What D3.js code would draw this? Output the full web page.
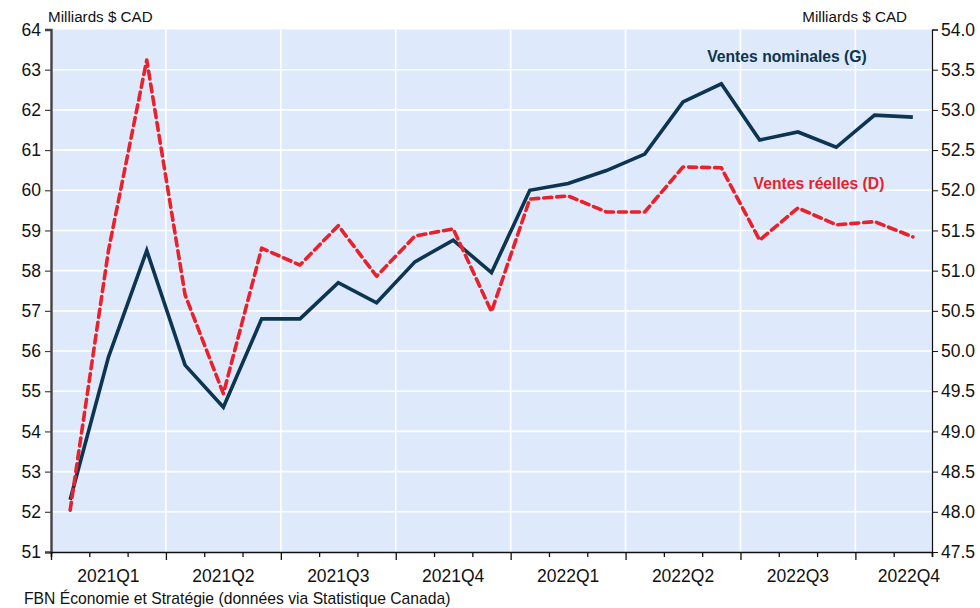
<!DOCTYPE html>
<html>
<head>
<meta charset="utf-8">
<script src="https://cdn.jsdelivr.net/npm/d3@7/dist/d3.min.js"></script>
<style>
  html, body { margin: 0; padding: 0; background: #fff; }
  svg { display: block; font-family: "Liberation Sans", Arial, sans-serif; }
</style>
</head>
<body>
<svg id="chart" width="980" height="608"></svg>
<script>
// Monthly retail sales, Jan 2021 – Nov 2022 (billions CAD)
const months = ["2021-01","2021-02","2021-03","2021-04","2021-05","2021-06","2021-07","2021-08","2021-09","2021-10","2021-11","2021-12",
                "2022-01","2022-02","2022-03","2022-04","2022-05","2022-06","2022-07","2022-08","2022-09","2022-10","2022-11"];
const nominal = [52.3, 55.85, 58.5, 55.65, 54.6, 56.8, 56.8, 57.7, 57.2, 58.22, 58.76, 57.95,
                 60.0, 60.17, 60.49, 60.9, 62.2, 62.65, 61.25, 61.45, 61.07, 61.87, 61.82];
const real = [48.02, 51.25, 53.62, 50.7, 49.47, 51.28, 51.07, 51.56, 50.93, 51.43, 51.52, 50.49,
              51.89, 51.93, 51.73, 51.73, 52.29, 52.28, 51.38, 51.78, 51.57, 51.61, 51.42];
const quarters = ["2021Q1","2021Q2","2021Q3","2021Q4","2022Q1","2022Q2","2022Q3","2022Q4"];
const leftTicks = d3.range(51, 65, 1);
const rightTicks = d3.range(47.5, 54.01, 0.5);

const svg = d3.select("#chart");
const m = { left: 51, right: 932, top: 29.5, bottom: 552 };

const x = d3.scaleLinear().domain([0, months.length]).range([m.left, m.right]);
const yL = d3.scaleLinear().domain([51, 64]).range([m.bottom, m.top]);
const yR = d3.scaleLinear().domain([47.5, 54]).range([m.bottom, m.top]);

// plot background
svg.append("rect")
  .attr("x", m.left).attr("y", m.top)
  .attr("width", m.right - m.left).attr("height", m.bottom - m.top)
  .attr("fill", "#deeafb");

// grid
const grid = svg.append("g").attr("stroke", "#ffffff").attr("stroke-width", 1.6);
grid.selectAll("line.h").data(leftTicks.slice(1, -1)).join("line")
  .attr("x1", m.left).attr("x2", m.right)
  .attr("y1", d => yL(d)).attr("y2", d => yL(d));
grid.selectAll("line.v").data(d3.range(3, months.length, 3)).join("line")
  .attr("y1", m.top).attr("y2", m.bottom)
  .attr("x1", d => x(d)).attr("x2", d => x(d));

// series
const lineN = d3.line().x((d, i) => x(i + 0.5)).y(d => yL(d));
const lineR = d3.line().x((d, i) => x(i + 0.5)).y(d => yR(d));

svg.append("path").datum(nominal)
  .attr("fill", "none").attr("stroke", "#0d3450").attr("stroke-width", 3.6)
  .attr("stroke-linejoin", "miter").attr("d", lineN);

svg.append("path").datum(real)
  .attr("fill", "none").attr("stroke", "#e8212b").attr("stroke-width", 3.6)
  .attr("stroke-dasharray", "8,5").attr("stroke-linecap", "round")
  .attr("stroke-linejoin", "round").attr("d", lineR);

// left axis
const axL = svg.append("g").attr("transform", `translate(${m.left},0)`)
  .call(d3.axisLeft(yL).tickValues(leftTicks).tickFormat(d3.format("d")).tickSize(6).tickPadding(4));
axL.select(".domain").attr("stroke", "#444").attr("stroke-width", 2.4);
axL.selectAll(".tick line").attr("stroke", "#444").attr("stroke-width", 1.2);
axL.selectAll("text").attr("font-size", 17.5).attr("fill", "#111");

// right axis
const axR = svg.append("g").attr("transform", `translate(${m.right},0)`)
  .call(d3.axisRight(yR).tickValues(rightTicks).tickFormat(d3.format(".1f")).tickSize(6).tickPadding(3));
axR.select(".domain").attr("stroke", "#111").attr("stroke-width", 1.2);
axR.selectAll(".tick line").attr("stroke", "#111");
axR.selectAll("text").attr("font-size", 17.5).attr("fill", "#111");

// bottom axis: monthly ticks, longer at quarter boundaries
const axB = svg.append("g").attr("transform", `translate(0,${m.bottom})`)
  .call(d3.axisBottom(x).tickValues(d3.range(0, months.length + 1)).tickFormat("").tickSizeOuter(0).tickSize(5));
axB.select(".domain").attr("stroke", "#111").attr("stroke-width", 1.6);
axB.selectAll(".tick line").attr("stroke", "#111").attr("stroke-width", 1.3)
  .attr("y2", d => d % 3 === 0 ? 8 : 5);

svg.append("g").selectAll("text").data(quarters).join("text")
  .attr("x", (d, i) => x(i * 3 + 1.5) - (i === quarters.length - 1 ? 4 : 0))
  .attr("y", 582)
  .attr("text-anchor", "middle").attr("font-size", 17.5).attr("fill", "#111")
  .text(d => d);

// unit labels
svg.append("text").attr("x", 48).attr("y", 22).attr("font-size", 15.2).attr("fill", "#111")
  .text("Milliards $ CAD");
svg.append("text").attr("x", 907).attr("y", 22).attr("text-anchor", "end").attr("font-size", 15.2).attr("fill", "#111")
  .text("Milliards $ CAD");

// series labels
svg.append("text").attr("x", 787).attr("y", 62).attr("text-anchor", "middle")
  .attr("font-size", 15.7).attr("font-weight", "bold").attr("fill", "#0d3450")
  .text("Ventes nominales (G)");
svg.append("text").attr("x", 819).attr("y", 189).attr("text-anchor", "middle")
  .attr("font-size", 15.7).attr("font-weight", "bold").attr("fill", "#e8212b")
  .text("Ventes réelles (D)");

// source
svg.append("text").attr("x", 24).attr("y", 604).attr("font-size", 15.7).attr("fill", "#111")
  .text("FBN Économie et Stratégie (données via Statistique Canada)");
</script>
</body>
</html>
